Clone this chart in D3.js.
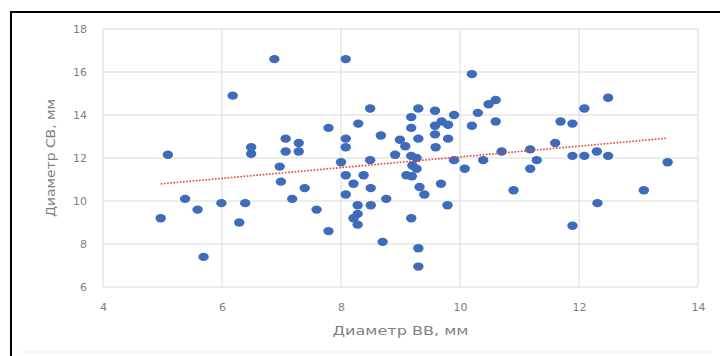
<!DOCTYPE html>
<html>
<head>
<meta charset="utf-8">
<script src="https://cdn.jsdelivr.net/npm/d3@7"></script>
<style>
  body { margin: 0; background: #fff; }
  svg { display: block; }
  text { font-family: 'DejaVu Sans', sans-serif; fill: #7f7f7f; }
</style>
</head>
<body>
<div id="chart"></div>
<script>
'use strict'

// Диаметр ВВ, мм
const xVals = [4.97, 5.09, 5.38, 5.59, 5.69, 5.99, 6.18, 6.29, 6.39, 6.49, 6.49, 6.88, 6.97, 6.99, 7.07, 7.07,
  7.18, 7.29, 7.29, 7.39, 7.59, 7.79, 7.79, 8.0, 8.08, 8.08, 8.08, 8.08, 8.08, 8.21, 8.21, 8.28, 8.28, 8.28,
  8.29, 8.38, 8.49, 8.49, 8.5, 8.5, 8.67, 8.7, 8.76, 8.91, 8.99, 9.08, 9.1, 9.18, 9.18, 9.18, 9.19, 9.2, 9.18,
  9.27, 9.27, 9.3, 9.3, 9.32, 9.3, 9.3, 9.4, 9.58, 9.58, 9.58, 9.59, 9.68, 9.69, 9.8, 9.8, 9.79, 9.9, 9.9,
  10.08, 10.2, 10.2, 10.3, 10.39, 10.48, 10.6, 10.6, 10.7, 10.9, 11.18, 11.18, 11.29, 11.6, 11.69, 11.89,
  11.89, 11.89, 12.09, 12.09, 12.3, 12.31, 12.49, 12.49, 13.09, 13.49]
// Диаметр СВ, мм
const yVals = [9.2, 12.15, 10.1, 9.6, 7.4, 9.9, 14.9, 9.0, 9.9, 12.5, 12.2, 16.6, 11.6, 10.9, 12.9, 12.3,
  10.1, 12.7, 12.3, 10.6, 9.6, 13.4, 8.6, 11.8, 16.6, 12.9, 12.5, 11.2, 10.3, 10.8, 9.2, 9.8, 9.4, 8.9,
  13.6, 11.2, 14.3, 11.9, 10.6, 9.8, 13.05, 8.1, 10.1, 12.15, 12.85, 12.55, 11.2, 13.9, 13.4, 12.1, 11.15, 11.65, 9.2,
  12.0, 11.5, 14.3, 12.9, 10.65, 7.8, 6.95, 10.3, 14.2, 13.5, 13.1, 12.5, 10.8, 13.7, 13.55, 12.9, 9.8, 14.0, 11.9,
  11.5, 15.9, 13.5, 14.1, 11.9, 14.5, 14.7, 13.7, 12.3, 10.5, 12.4, 11.5, 11.9, 12.7, 13.7, 13.6,
  12.1, 8.85, 14.3, 12.1, 12.3, 9.9, 14.8, 12.1, 10.5, 11.8]

const xTicks = [4, 6, 8, 10, 12, 14]
const yTicks = [6, 8, 10, 12, 14, 16, 18]
const xTitle = 'Диаметр ВВ, мм'
const yTitle = 'Диаметр СВ, мм'

const width = 720,
    height = 356

const x = d3.scaleLinear().domain([4, 14]).range([103, 698])
const y = d3.scaleLinear().domain([6, 18]).range([287, 29])

const svg = d3.select('#chart').append('svg')
  .attr('width', width)
  .attr('height', height)

// faint chart area edge at the bottom
svg.append('line')
  .attr('x1', 22).attr('x2', 712)
  .attr('y1', 352).attr('y2', 352)
  .attr('stroke', '#f0f0f0')

// black frame (top + left)
svg.append('path')
  .attr('d', 'M10,12H720M11,12V356')
  .attr('stroke', '#000')
  .attr('stroke-width', 2)
  .attr('fill', 'none')

// grid
svg.append('g').selectAll('line')
  .data(yTicks)
  .enter().append('line')
    .attr('x1', x(4)).attr('x2', x(14))
    .attr('y1', d => y(d)).attr('y2', d => y(d))
    .attr('stroke', '#d9d9d9')

svg.append('g').selectAll('line')
  .data(xTicks)
  .enter().append('line')
    .attr('y1', y(6)).attr('y2', y(18))
    .attr('x1', d => x(d)).attr('x2', d => x(d))
    .attr('stroke', '#d9d9d9')

// axes (labels only)
const xAxis = svg.append('g')
  .attr('transform', `translate(0,${y(6)})`)
  .call(d3.axisBottom(x).tickValues(xTicks).tickSize(0).tickPadding(16))
const yAxis = svg.append('g')
  .attr('transform', `translate(${x(4)},0)`)
  .call(d3.axisLeft(y).tickValues(yTicks).tickSize(0).tickPadding(16))

;[xAxis, yAxis].forEach(a => {
  a.select('.domain').remove()
  a.selectAll('text')
    .attr('fill', '#8c8c8c')
    .style('font-family', "'DejaVu Sans', sans-serif")
    .style('font-size', '11px')
})

svg.append('text')
  .attr('x', (x(4) + x(14)) / 2)
  .attr('y', 335)
  .attr('text-anchor', 'middle')
  .attr('textLength', 136)
  .attr('lengthAdjust', 'spacingAndGlyphs')
  .style('font-size', '13px')
  .attr('fill', '#7f7f7f')
  .text(xTitle)

svg.append('text')
  .attr('transform', `translate(55,${(y(6) + y(18)) / 2}) rotate(-90)`)
  .attr('text-anchor', 'middle')
  .attr('textLength', 118)
  .attr('lengthAdjust', 'spacingAndGlyphs')
  .style('font-size', '12.5px')
  .attr('fill', '#7f7f7f')
  .text(yTitle)

// points
const points = xVals.map((v, i) => ({ x: v, y: yVals[i] }))

svg.append('g').selectAll('ellipse')
  .data(points)
  .enter().append('ellipse')
    .attr('cx', d => x(d.x))
    .attr('cy', d => y(d.y))
    .attr('rx', 5.2)
    .attr('ry', 4.2)
    .attr('fill', '#3f6bbb')

// linear trendline (least squares)
const mx = d3.mean(xVals), my = d3.mean(yVals)
const slope = d3.sum(points, d => (d.x - mx) * (d.y - my)) / d3.sum(points, d => (d.x - mx) * (d.x - mx))
const icpt = my - slope * mx
const [x0, x1] = d3.extent(xVals)

svg.append('line')
  .attr('x1', x(x0)).attr('y1', y(icpt + slope * x0))
  .attr('x2', x(x1)).attr('y2', y(icpt + slope * x1))
  .attr('stroke', '#e8402a')
  .attr('stroke-width', 1.6)
  .attr('stroke-dasharray', '1.6,1.6')
</script>
</body>
</html>
